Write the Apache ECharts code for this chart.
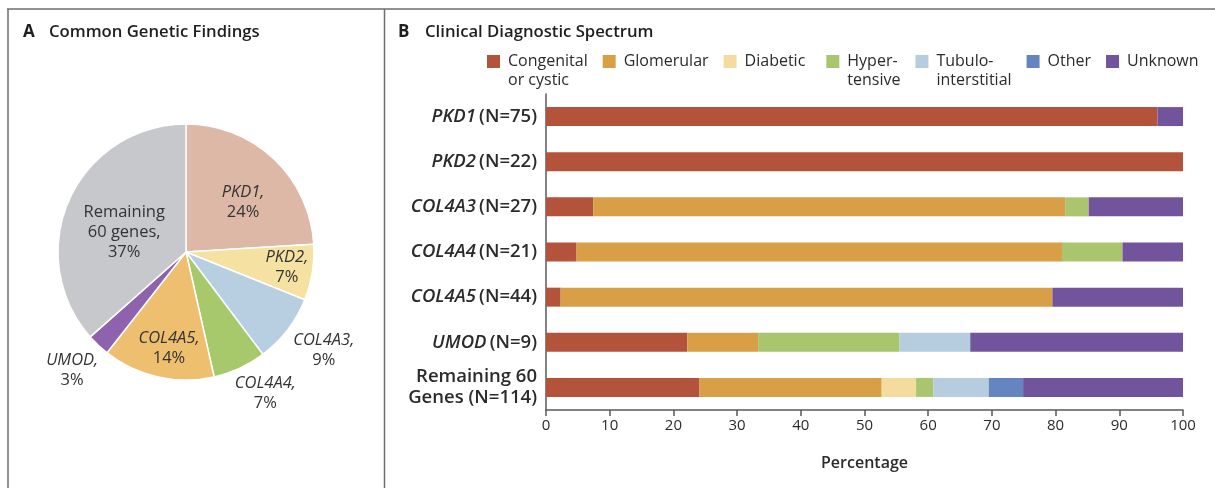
<!DOCTYPE html>
<html>
<head>
<meta charset="utf-8">
<script src="https://cdn.jsdelivr.net/npm/echarts@6/dist/echarts.min.js"></script>
<style>
  html, body { margin: 0; padding: 0; background: #ffffff; }
  #chart { width: 1215px; height: 488px; }
</style>
</head>
<body>
<div id="chart"></div>
<script>
// ---- data ----
const genes = ['PKD1', 'PKD2', 'COL4A3', 'COL4A4', 'COL4A5', 'UMOD', 'Remaining 60 genes'];
const geneCounts = [75, 22, 27, 21, 44, 9, 114];

const diagnosisNames = ['Congenital\nor cystic', 'Glomerular', 'Diabetic', 'Hyper-\ntensive', 'Tubulo-\ninterstitial', 'Other', 'Unknown'];
// percentage of patients in each gene group, by clinical diagnosis (same order as genes)
const congenital   = [96.0, 100, 7.4, 4.8, 2.3, 22.2, 24.1];
const glomerular   = [0, 0, 74.1, 76.2, 77.2, 11.1, 28.6];
const diabetic     = [0, 0, 0, 0, 0, 0, 5.4];
const hypertensive = [0, 0, 3.7, 9.5, 0, 22.2, 2.7];
const tubulo       = [0, 0, 0, 0, 0, 11.1, 8.7];
const other        = [0, 0, 0, 0, 0, 0, 5.4];
const unknown      = [4.0, 0, 14.8, 9.5, 20.5, 33.4, 25.1];
const diagnosisValues = [congenital, glomerular, diabetic, hypertensive, tubulo, other, unknown];

// ---- styles ----
const FONT = '"Open Sans", "Noto Sans", sans-serif';
const TEXT = '#2b2b2b';
const diagnosisColors = ['#b4533c', '#d89f47', '#f4dc9e', '#a9c66f', '#b6cde0', '#6585c0', '#72549c'];
const pieColors = ['#deb8a6', '#f5e1a1', '#b8cfe2', '#a7c96b', '#eebf6f', '#8f62ae', '#c6c8cc'];
const PIE_CX = 186, PIE_CY = 252, PIE_R = 128;
// distance of each pie label from the centre, and a small turn off the slice's mid-angle
const pieLabelDist = [76, 102, 169, 162, 98, 164, 65];
const pieLabelTurn = [5.4, -0.8, -2.1, -4.5, -2.7, 0.7, -6.2];
// extra space after some legend entries
const legendSpaceAfter = [0, 0, 6, 0, 0, 0, 0];

const total = geneCounts.reduce((a, b) => a + b, 0);
let acc = 0;
const midAngles = geneCounts.map(c => { const m = (acc + c / 2) / total * 360; acc += c; return m; });
const isGroup = i => i === genes.length - 1;

const pieData = genes.map((g, i) => ({ name: g, value: geneCounts[i], itemStyle: { color: pieColors[i] } }));

const barSeries = diagnosisNames.map((name, k) => ({
  type: 'bar',
  name: name,
  stack: 'dx',
  barWidth: 19,
  data: diagnosisValues[k],
  itemStyle: { color: diagnosisColors[k] },
  emphasis: { disabled: true },
  silent: true
}));

const legendData = diagnosisNames.map((n, k) => ({
  name: n,
  textStyle: { padding: [0, legendSpaceAfter[k], 0, 3] }
}));

const chart = echarts.init(document.getElementById('chart'), null, { renderer: 'canvas' });

const titleRich = (letterWidth) => ({
  l: { fontFamily: FONT, fontSize: 17, fontWeight: 700, color: '#1e1e1e', width: letterWidth, lineHeight: 20 },
  t: { fontFamily: FONT, fontSize: 16.7, fontWeight: 600, color: '#1e1e1e', lineHeight: 20 }
});

chart.setOption({
  animation: false,
  backgroundColor: '#ffffff',
  textStyle: { fontFamily: FONT },
  title: [
    { text: '{l|A}{t|Common Genetic Findings}', left: 23, top: 22, padding: 0, textStyle: { rich: titleRich(26) } },
    { text: '{l|B}{t|Clinical Diagnostic Spectrum}', left: 398, top: 22, padding: 0, textStyle: { rich: titleRich(27) } }
  ],
  legend: {
    data: legendData,
    left: 487, top: 33, padding: 0,
    orient: 'horizontal',
    icon: 'rect',
    itemWidth: 13, itemHeight: 13, itemGap: 15,
    selectedMode: false,
    // a leading blank line keeps the first line of two-line entries level with the swatch
    formatter: name => (name.indexOf('\n') >= 0 ? '\n' + name : name),
    textStyle: { fontFamily: FONT, fontSize: 16, color: TEXT, lineHeight: 19 }
  },
  grid: { left: 546, right: 32, top: 94, bottom: 78, containLabel: false, outerBoundsMode: 'none' },
  xAxis: {
    type: 'value',
    min: 0, max: 100, interval: 10,
    name: 'Percentage',
    nameLocation: 'middle',
    nameGap: 45,
    nameTextStyle: { fontFamily: FONT, fontSize: 16, fontWeight: 600, color: TEXT },
    axisLine: { show: true, lineStyle: { color: '#5a5a5a', width: 1.5 } },
    axisTick: { show: true, length: 6, lineStyle: { color: '#5a5a5a', width: 1.5 } },
    axisLabel: { fontFamily: FONT, fontSize: 15, color: TEXT, margin: 8 },
    splitLine: { show: false }
  },
  yAxis: {
    type: 'category',
    inverse: true,
    data: genes,
    axisLine: { show: true, lineStyle: { color: '#5a5a5a', width: 1.5 } },
    axisTick: { show: false },
    axisLabel: {
      margin: 9,
      fontFamily: FONT,
      color: TEXT,
      formatter: function (value, i) {
        if (isGroup(i)) return '{n|Remaining 60}\n{n|Genes (N=' + geneCounts[i] + ')}';
        return '{g|' + value + '} {n|(N=' + geneCounts[i] + ')}';
      },
      rich: {
        g: { fontFamily: FONT, fontSize: 18.5, fontWeight: 600, fontStyle: 'italic', color: TEXT, lineHeight: 21 },
        n: { fontFamily: FONT, fontSize: 18.5, fontWeight: 600, color: TEXT, lineHeight: 21 }
      }
    }
  },
  series: [
    {
      type: 'pie',
      center: [PIE_CX, PIE_CY],
      radius: PIE_R,
      startAngle: 90,
      clockwise: true,
      data: pieData,
      silent: true,
      itemStyle: { borderColor: '#ffffff', borderWidth: 1.5 },
      labelLine: { show: false },
      label: {
        show: true,
        position: 'inside',
        color: '#333333',
        fontFamily: FONT,
        fontSize: 16,
        lineHeight: 20,
        formatter: function (p) {
          const i = p.dataIndex;
          const pct = Math.round(geneCounts[i] / total * 100) + '%';
          if (isGroup(i)) return '{p|Remaining}\n{p|60 genes,}\n{p|' + pct + '}';
          return '{g|' + genes[i] + ',}\n{p|' + pct + '}';
        },
        rich: {
          g: { fontFamily: FONT, fontSize: 16.5, fontStyle: 'italic', color: '#333333', lineHeight: 20 },
          p: { fontFamily: FONT, fontSize: 16.5, color: '#333333', lineHeight: 20 }
        }
      },
      labelLayout: function (p) {
        const i = p.dataIndex;
        const a = (midAngles[i] + pieLabelTurn[i]) * Math.PI / 180;
        const d = pieLabelDist[i];
        return {
          x: PIE_CX + d * Math.sin(a),
          y: PIE_CY - d * Math.cos(a),
          align: 'center',
          verticalAlign: 'middle'
        };
      }
    }
  ].concat(barSeries),
  graphic: [
    { type: 'line', silent: true, shape: { x1: 7, y1: 9, x2: 1215, y2: 9 }, style: { stroke: '#6e6e6e', lineWidth: 1.5 } },
    { type: 'line', silent: true, shape: { x1: 8, y1: 9, x2: 8, y2: 488 }, style: { stroke: '#6e6e6e', lineWidth: 1.5 } },
    { type: 'line', silent: true, shape: { x1: 384.5, y1: 9, x2: 384.5, y2: 488 }, style: { stroke: '#6e6e6e', lineWidth: 1.5 } }
  ]
});
</script>
</body>
</html>
